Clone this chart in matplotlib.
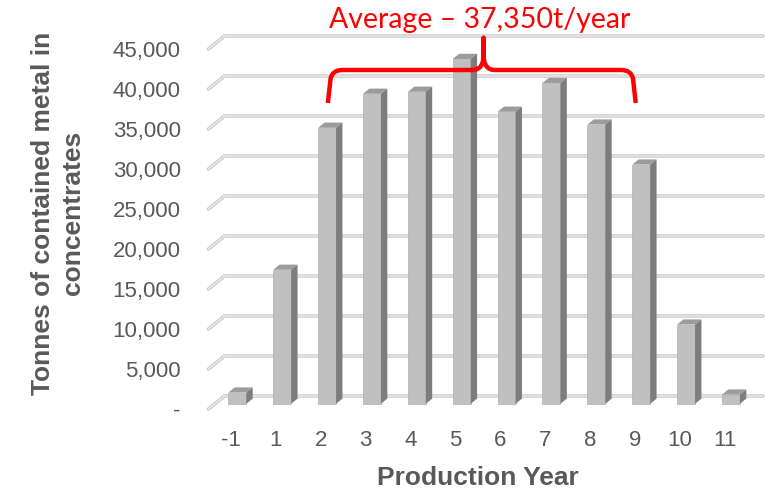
import matplotlib
matplotlib.use('Agg')
import matplotlib.pyplot as plt
from matplotlib.patches import Polygon, PathPatch
from matplotlib.path import Path
import numpy as np

# valori
years = ['-1', '1', '2', '3', '4', '5', '6', '7', '8', '9', '10', '11']
tonnes = [1400, 16750, 34500, 38750, 39000, 43100, 36500, 40100, 34900, 29900, 9900, 1150]
y_ticks = [0, 5000, 10000, 15000, 20000, 25000, 30000, 35000, 40000, 45000]
y_tick_labels = ['-', '5,000', '10,000', '15,000', '20,000', '25,000',
                 '30,000', '35,000', '40,000', '45,000']
avg_label = 'Average \u2013 37,350t/year'

plt.rcParams['font.family'] = ['Liberation Sans', 'DejaVu Sans']
grey_txt = '#595959'

fig = plt.figure(figsize=(7.7, 4.92), dpi=100)
ax = fig.add_axes([208.5 / 770, 83 / 492, 538.5 / 770, 360 / 492])
ax.set_xlim(-0.5, 11.5)
ax.set_ylim(0, 45000)
for s in ax.spines.values():
    s.set_visible(False)

# profondita' finta 3D (unita' dati)
DX = 0.356
DY = 1625

# griglia sul piano di fondo + diagonale sul lato sinistro
for v in y_ticks:
    xs = [-0.5, -0.5 + DX, 11.5 + DX]
    ys = [v, v + DY, v + DY]
    ax.plot(xs, ys, color='#cdcdcd', lw=2.6, clip_on=False, zorder=1,
            solid_capstyle='round', solid_joinstyle='round')
    ax.plot(xs, ys, color='#ececec', lw=0.9, clip_on=False, zorder=1.1,
            solid_capstyle='round', solid_joinstyle='round')

# barre 3D
x = np.arange(len(years))
f0 = 0.4   # posizione della faccia frontale nella profondita'
f1 = 0.4   # spessore della barra
w = 0.40
xf = x + f0 * DX
base = f0 * DY
ax.bar(xf, tonnes, width=w, bottom=base, color='#c0c0c0', edgecolor='#b0b0b0',
       linewidth=0.5, zorder=3, clip_on=False)
for xc, t in zip(xf, tonnes):
    xl = xc - w / 2
    xr = xc + w / 2
    top = base + t
    top_face = Polygon([(xl, top), (xr, top), (xr + f1 * DX, top + f1 * DY),
                        (xl + f1 * DX, top + f1 * DY)], closed=True,
                       facecolor='#9c9c9c', edgecolor='none', zorder=3, clip_on=False)
    side_face = Polygon([(xr, base), (xr, top), (xr + f1 * DX, top + f1 * DY),
                         (xr + f1 * DX, base + f1 * DY)], closed=True,
                        facecolor='#7d7d7d', edgecolor='none', zorder=3, clip_on=False)
    ax.add_patch(top_face)
    ax.add_patch(side_face)

# assi
ax.set_yticks(y_ticks, y_tick_labels)
ax.set_xticks(x, years)
ax.tick_params(axis='y', length=0, pad=20, labelsize=16, labelcolor=grey_txt)
ax.tick_params(axis='x', length=0, pad=15, labelsize=16, labelcolor=grey_txt)

ax.set_xlabel('Production Year', fontsize=19, fontweight='bold', color=grey_txt)
ax.xaxis.label.set_va('center')
ax.xaxis.set_label_coords(0.5, -0.192)
ax.set_ylabel('Tonnes of contained metal in\nconcentrates', fontsize=19,
              fontweight='bold', color=grey_txt, linespacing=1.3)
ax.yaxis.label.set_va('center')
ax.yaxis.set_label_coords(-0.2795, 0.544)

# parentesi graffa rossa della media
bx0, bx1, bmid = 2.16, 9.02, 5.63
blow, bline, btop = 38250, 42375, 46400
verts = [
    (bx0, blow),
    (bx0 + 0.06, bline - 1100),
    (bx0 + 0.1, bline), (bx0 + 0.32, bline),
    (bmid - 0.25, bline),
    (bmid, bline), (bmid, bline + 1900),
    (bmid, btop),
    (bmid, bline + 1900),
    (bmid, bline), (bmid + 0.25, bline),
    (bx1 - 0.32, bline),
    (bx1 - 0.1, bline), (bx1 - 0.06, bline - 1100),
    (bx1, blow),
]
codes = [Path.MOVETO, Path.LINETO, Path.CURVE3, Path.CURVE3, Path.LINETO,
         Path.CURVE3, Path.CURVE3, Path.LINETO, Path.LINETO,
         Path.CURVE3, Path.CURVE3, Path.LINETO, Path.CURVE3, Path.CURVE3, Path.LINETO]
brace = PathPatch(Path(verts, codes), facecolor='none', edgecolor='#ff0000', lw=3.2,
                  zorder=5, clip_on=False, capstyle='butt', joinstyle='round')
ax.add_patch(brace)
ax.text(5.55, 48625, avg_label, ha='center', va='center', color='#ff0000',
        fontsize=20.5, family=['Lato', 'DejaVu Sans'], clip_on=False)

fig.savefig('out.png', dpi=100)
